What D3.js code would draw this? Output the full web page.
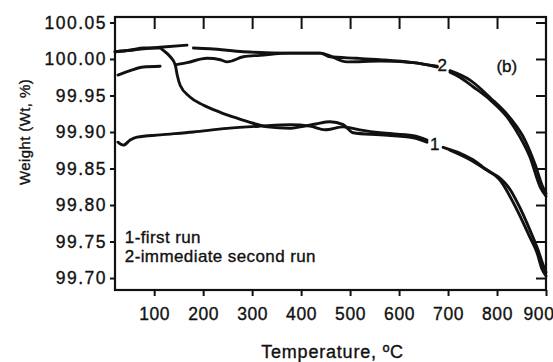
<!DOCTYPE html>
<html>
<head>
<meta charset="utf-8">
<script src="https://cdn.jsdelivr.net/npm/d3@7"></script>
<style>
  body { margin: 0; background: #fff; }
  text { font-family: 'Liberation Sans', Arial, sans-serif; fill: #111; stroke: #111; stroke-width: 0.35px; }
</style>
</head>
<body>
<div id="chart"></div>
<script>
// tick values
const xTicks = [100, 200, 300, 400, 500, 600, 700, 800, 900];
const yTicks = [99.7, 99.75, 99.8, 99.85, 99.9, 99.95, 100.0, 100.05];

// run 1 (two traces), null = gap in the trace
const run1aTemp = [20, 51, 78, 112, 118, 133, 143, 147, 153, 173, 200, 235, 269, 302, 331, 378, 398, 430, 459, 486, 506, 561, 629, 657, 670, 690, 724, 751, 771, 806, 841, 867, 882, 892, 900];
const run1aWt = [100.010, 100.012, 100.015, 100.015, 100.012, 100.003, 99.992, 99.978, 99.964, 99.948, 99.937, 99.927, 99.919, 99.912, 99.907, 99.905, 99.907, 99.911, 99.914, 99.910, 99.899, 99.896, 99.892, 99.886, null, 99.879, 99.871, 99.862, 99.852, 99.834, 99.793, 99.756, 99.734, 99.712, 99.703];

const run1bTemp = [26, 37, 51, 65, 112, 180, 249, 316, 378, 418, 449, 486, 520, 561, 629, 657, 670, 704, 745, 786, 806, 827, 847, 867, 884, 894, 900];
const run1bWt = [99.886, 99.882, 99.889, 99.893, 99.896, 99.900, 99.905, 99.908, 99.910, 99.908, 99.903, 99.907, 99.903, 99.899, 99.895, 99.889, null, 99.875, 99.862, 99.845, 99.837, 99.821, 99.796, 99.766, 99.738, 99.718, 99.708];

// run 2 (two traces)
const run2aTemp = [26, 51, 78, 112, 128, 143, 167, 208, 235, 249, 282, 316, 378, 439, 494, 561, 629, 678, 690, 704, 724, 751, 786, 820, 847, 867, 888, 900];
const run2aWt = [99.978, 99.984, 99.989, 99.990, null, 99.992, 99.995, 100.001, 99.999, 99.996, 100.003, 100.005, 100.008, 100.008, 99.996, 99.997, 99.995, 99.989, null, 99.982, 99.975, 99.962, 99.944, 99.921, 99.893, 99.866, 99.825, 99.812];

const run2bTemp = [20, 51, 112, 167, 173, 180, 214, 282, 378, 439, 459, 514, 561, 629, 678, 690, 704, 745, 786, 827, 857, 878, 892, 900];
const run2bWt = [100.010, 100.012, 100.016, 100.019, null, 100.015, 100.014, 100.010, 100.008, 100.008, 100.003, 100.001, 99.999, 99.995, 99.990, null, 99.984, 99.971, 99.947, 99.919, 99.889, 99.855, 99.827, 99.816];

const legendLines = ['1-first run', '2-immediate second run'];

// size
const W = 553, H = 362;
const margin = { top: 17, right: 7, bottom: 72, left: 115 };

const svg = d3.select('#chart').append('svg')
  .attr('width', W).attr('height', H);

const x = d3.scaleLinear().domain([20, 900]).range([margin.left, W - margin.right]);
const y = d3.scaleLinear().domain([99.6836, 100.0575]).range([H - margin.bottom, margin.top]);

// axes
const fmtY = d3.format('.2f');

const gLeft = svg.append('g')
  .attr('transform', `translate(${margin.left},0)`)
  .call(d3.axisLeft(y).tickValues(yTicks).tickFormat(fmtY).tickSize(5).tickPadding(3).tickSizeOuter(0));
gLeft.selectAll('text').style('font-size', '17.5px').style('letter-spacing', '1.5px');

const gBottom = svg.append('g')
  .attr('transform', `translate(0,${H - margin.bottom})`)
  .call(d3.axisBottom(x).tickValues(xTicks).tickFormat(d3.format('d')).tickSize(6).tickPadding(12).tickSizeOuter(0));
gBottom.selectAll('text').style('font-size', '17.5px').style('letter-spacing', '0.6px');
gBottom.selectAll('.tick').filter((d) => d === 900).select('text')
  .attr('text-anchor', 'end').attr('dx', '8');

svg.append('g')
  .attr('transform', `translate(0,${margin.top})`)
  .call(d3.axisTop(x).tickValues(xTicks.slice(0, -1)).tickFormat('').tickSize(-12).tickSizeOuter(0));

svg.append('g')
  .attr('transform', `translate(${W - margin.right},0)`)
  .call(d3.axisRight(y).tickValues(yTicks).tickFormat('').tickSize(-10).tickSizeOuter(0));

svg.selectAll('.domain').remove();
svg.selectAll('.tick line').attr('stroke', '#111').attr('stroke-width', 2);

// frame
svg.append('rect')
  .attr('x', margin.left).attr('y', margin.top)
  .attr('width', W - margin.right - margin.left)
  .attr('height', H - margin.bottom - margin.top)
  .attr('fill', 'none').attr('stroke', '#111').attr('stroke-width', 2.2);

// curves
const line = d3.line()
  .defined((d) => d[1] != null)
  .x((d) => x(d[0]))
  .y((d) => y(d[1]))
  .curve(d3.curveMonotoneX);

const traces = [
  d3.zip(run1aTemp, run1aWt),
  d3.zip(run1bTemp, run1bWt),
  d3.zip(run2aTemp, run2aWt),
  d3.zip(run2bTemp, run2bWt)
];

svg.append('g')
  .selectAll('path')
  .data(traces)
  .join('path')
  .attr('d', line)
  .attr('fill', 'none')
  .attr('stroke', '#111')
  .attr('stroke-width', 2.9)
  .attr('stroke-linejoin', 'round')
  .attr('stroke-linecap', 'round');

// curve labels
svg.append('text').attr('x', x(673)).attr('y', y(99.884)).attr('dy', '0.35em')
  .attr('text-anchor', 'middle').style('font-size', '17px').text('1');
svg.append('text').attr('x', x(688)).attr('y', y(99.992)).attr('dy', '0.35em')
  .attr('text-anchor', 'middle').style('font-size', '17px').text('2');
svg.append('text').attr('x', x(820)).attr('y', y(99.991)).attr('dy', '0.35em')
  .attr('text-anchor', 'middle').style('font-size', '17px').text('(b)');

// legend text
svg.append('g')
  .selectAll('text')
  .data(legendLines)
  .join('text')
  .attr('x', x(40))
  .attr('y', (d, i) => 243 + i * 19)
  .style('font-size', '17px')
  .style('letter-spacing', '0.4px')
  .text((d) => d);

// axis titles
svg.append('text')
  .attr('x', (margin.left + W - margin.right) / 2 + 2)
  .attr('y', 358)
  .attr('text-anchor', 'middle')
  .style('font-size', '18px')
  .style('letter-spacing', '0.8px')
  .text('Temperature, ºC');

svg.append('text')
  .attr('transform', 'translate(30,132) rotate(-90)')
  .attr('text-anchor', 'middle')
  .style('font-size', '15px')
  .style('letter-spacing', '0.4px')
  .text('Weight (Wt, %)');
</script>
</body>
</html>
